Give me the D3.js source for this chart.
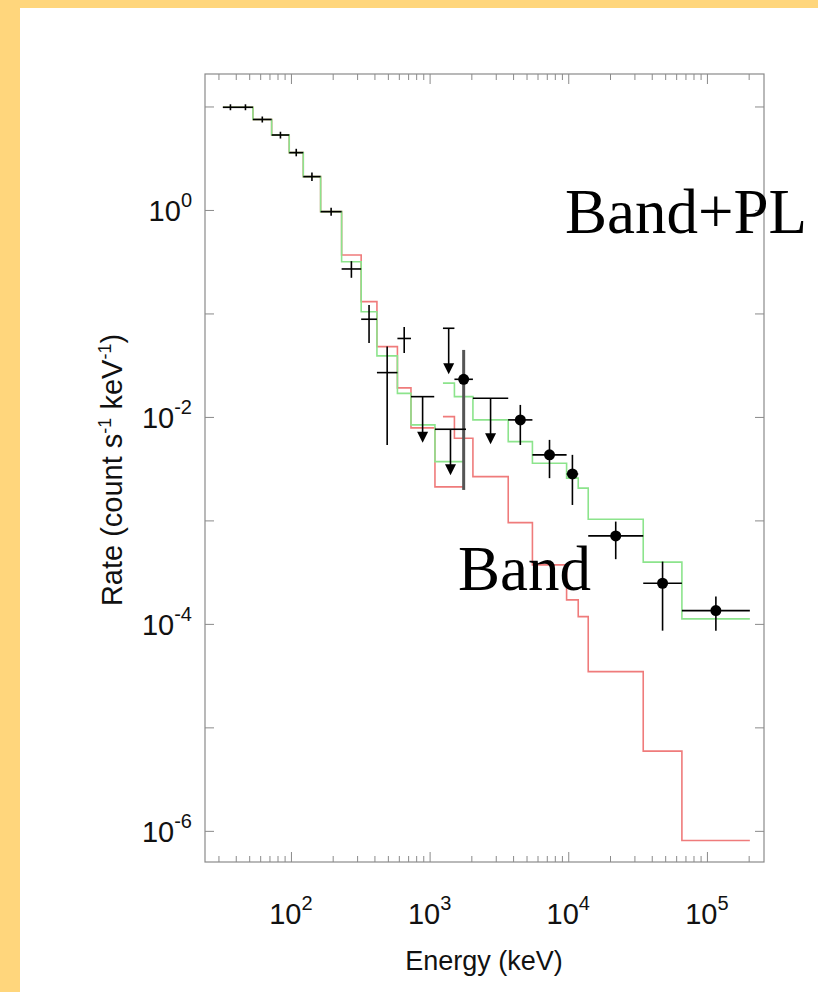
<!DOCTYPE html>
<html>
<head>
<meta charset="utf-8">
<script src="https://cdn.jsdelivr.net/npm/d3@7"></script>
<style>
  html, body { margin: 0; padding: 0; background: #ffd67c; }
  svg { display: block; }
</style>
</head>
<body>
<svg id="chart" width="818" height="992"></svg>
<script>
// ---- Spectrum data (count s^-1 keV^-1 vs keV) ----

// Low-energy detector: model bin edges and folded model rates
const lowEdges = [32.3, 41.5, 53.2, 72.6, 97.2, 122.7, 163.7, 232, 321, 417, 586, 734, 1093, 1798];
const bandLow   = [9.82, 9.82, 7.49, 5.30, 3.58, 2.10, 0.963, 0.367, 0.130, 0.0478, 0.0191, 0.00783, 0.00211];
const bandPlLow = [9.82, 9.82, 7.49, 5.30, 3.58, 2.10, 0.963, 0.316, 0.104, 0.0389, 0.0169, 0.00837, 0.0037];

// High-energy detectors: model bin edges and folded model rates
const highEdges  = [1248, 1510, 2053, 3690, 5514, 9727, 11800, 13930, 34720, 66000, 204000];
const bandHigh   = [0.01007, 0.00622, 0.00265, 9.52e-4, 3.72e-4, 1.706e-4, 1.176e-4, 3.46e-5, 5.9e-6, 8.06e-7];
const bandPlHigh = [0.0212, 0.0157, 0.00936, 0.00577, 0.00357, 0.00256, 0.00205, 1.027e-3, 3.95e-4, 1.117e-4];

// Measured bins: [E low, E high, rate, rate low, rate high]
const crossData = [
  [32.3, 41.5, 9.82, 9.2, 10.5],
  [41.5, 53.2, 9.82, 9.2, 10.5],
  [53.2, 72.6, 7.49, 7.0, 8.0],
  [72.6, 97.2, 5.30, 4.9, 5.7],
  [97.2, 122.7, 3.58, 3.3, 3.9],
  [122.7, 163.7, 2.10, 1.9, 2.3],
  [163.7, 232, 0.963, 0.88, 1.05],
  [232, 321, 0.269, 0.221, 0.32],
  [321, 417, 0.0879, 0.0519, 0.1208],
  [417, 586, 0.0268, 0.00536, 0.0478],
  [586, 734, 0.0573, 0.0415, 0.0741]
];

// High-energy measured bins drawn with filled markers
const dotData = [
  [1510, 2053, 0.0231, 0.00197, 0.0444],
  [3690, 5514, 0.00936, 0.00536, 0.01306],
  [5514, 9727, 0.0043, 0.00256, 0.006],
  [9727, 11800, 0.00281, 0.00141, 0.0043],
  [13930, 34720, 7.08e-4, 4.22e-4, 9.74e-4],
  [34720, 66000, 2.47e-4, 8.6e-5, 4.0e-4],
  [66000, 204000, 1.344e-4, 8.6e-5, 1.835e-4]
];

// Upper limits: [E low, E high, limit]
const upperLimits = [
  [734, 1080, 0.0157],
  [1093, 1830, 0.0076],
  [1248, 1510, 0.0719],
  [2053, 3690, 0.01517]
];

const xTickExps = [2, 3, 4, 5];
const yTickExps = [0, -2, -4, -6];

// ---- Layout ----
const svg = d3.select("#chart");
const plot = { left: 205, right: 764, top: 74, bottom: 862 };

svg.append("rect").attr("x", 20).attr("y", 8).attr("width", 798).attr("height", 984).attr("fill", "#fff");

const x = d3.scaleLog().domain([24, 2.58e5]).range([plot.left, plot.right]);
const y = d3.scaleLog().domain([5.0e-7, 20.6]).range([plot.bottom, plot.top]);

const frameColor = "#8a8a8a";

// Axes: bottom/top with decade + minor ticks, left/right with decade ticks
function tickSet(scale) {
  const [a, b] = scale.domain();
  const out = [];
  for (let e = Math.floor(Math.log10(a)); e <= Math.ceil(Math.log10(b)); e++) {
    for (let m = 1; m <= 9; m++) {
      const v = m * Math.pow(10, e);
      if (v >= a && v <= b) out.push(v);
    }
  }
  return out;
}
const xTicks = tickSet(x);
const isDecade = v => Math.abs(Math.log10(v) - Math.round(Math.log10(v))) < 1e-9;

const gB = svg.append("g").attr("transform", `translate(0,${plot.bottom})`)
  .call(d3.axisBottom(x).tickValues(xTicks).tickFormat("").tickSizeOuter(0));
const gT = svg.append("g").attr("transform", `translate(0,${plot.top})`)
  .call(d3.axisTop(x).tickValues(xTicks).tickFormat("").tickSizeOuter(0));
[gB, gT].forEach((g, i) => {
  g.select(".domain").remove();
  g.selectAll(".tick line")
    .attr("stroke", frameColor)
    .attr("y2", d => (i === 0 ? -1 : 1) * (isDecade(d) ? 10 : 6));
});

const yTicks = d3.range(-6, 2).map(e => Math.pow(10, e));
const gL = svg.append("g").attr("transform", `translate(${plot.left},0)`)
  .call(d3.axisLeft(y).tickValues(yTicks).tickFormat("").tickSizeOuter(0));
const gR = svg.append("g").attr("transform", `translate(${plot.right},0)`)
  .call(d3.axisRight(y).tickValues(yTicks).tickFormat("").tickSizeOuter(0));
[gL, gR].forEach((g, i) => {
  g.select(".domain").remove();
  g.selectAll(".tick line").attr("stroke", frameColor).attr("x2", (i === 0 ? 1 : -1) * 9);
});

svg.append("rect")
  .attr("x", plot.left).attr("y", plot.top)
  .attr("width", plot.right - plot.left).attr("height", plot.bottom - plot.top)
  .attr("fill", "none").attr("stroke", frameColor).attr("stroke-width", 1.2);

// Tick labels as 10 with a superscript exponent
const labelFont = "'Liberation Sans', Arial, Helvetica, sans-serif";
xTickExps.forEach(e => {
  const t = svg.append("text")
    .attr("x", x(Math.pow(10, e))).attr("y", 924)
    .attr("text-anchor", "middle")
    .attr("font-family", labelFont).attr("font-size", 29).attr("fill", "#111");
  t.append("tspan").text("10");
  t.append("tspan").attr("font-size", 20).attr("dy", -14).text(String(e));
});
yTickExps.forEach(e => {
  const t = svg.append("text")
    .attr("x", 192).attr("y", y(Math.pow(10, e)) + 11)
    .attr("text-anchor", "end")
    .attr("font-family", labelFont).attr("font-size", 29).attr("fill", "#111");
  t.append("tspan").text("10");
  t.append("tspan").attr("font-size", 20).attr("dy", -14).text(e === 0 ? "0" : "-" + Math.abs(e));
});

// Axis titles
svg.append("text")
  .attr("x", 484).attr("y", 970).attr("text-anchor", "middle")
  .attr("font-family", labelFont).attr("font-size", 27).attr("fill", "#111")
  .text("Energy (keV)");

const yt = svg.append("text")
  .attr("transform", "translate(122,470) rotate(-90)")
  .attr("text-anchor", "middle")
  .attr("font-family", labelFont).attr("font-size", 29).attr("fill", "#111");
yt.append("tspan").text("Rate (count s");
yt.append("tspan").attr("font-size", 18).attr("dy", -11).text("-1");
yt.append("tspan").attr("dy", 11).text(" keV");
yt.append("tspan").attr("font-size", 18).attr("dy", -11).text("-1");
yt.append("tspan").attr("dy", 11).text(")");

// ---- Model step curves ----
const step = d3.line().x(d => x(d[0])).y(d => y(d[1])).curve(d3.curveStepAfter);
function stepPoints(edges, vals) {
  const pts = vals.map((v, i) => [edges[i], v]);
  pts.push([edges[edges.length - 1], vals[vals.length - 1]]);
  return pts;
}
const redCol = "#ef7b7b", greenCol = "#8ce48c";
[[lowEdges, bandLow, redCol], [highEdges, bandHigh, redCol],
 [lowEdges, bandPlLow, greenCol], [highEdges, bandPlHigh, greenCol]].forEach(([e, v, c]) => {
  svg.append("path").attr("d", step(stepPoints(e, v)))
    .attr("fill", "none").attr("stroke", c).attr("stroke-width", 1.6);
});

// ---- Data ----
const data = svg.append("g").attr("stroke", "#000").attr("stroke-width", 1.6);

crossData.forEach(d => {
  const cx = x(Math.sqrt(d[0] * d[1]));
  data.append("line").attr("x1", x(d[0])).attr("x2", x(d[1])).attr("y1", y(d[2])).attr("y2", y(d[2]));
  data.append("line").attr("x1", cx).attr("x2", cx).attr("y1", y(d[3])).attr("y2", y(d[4]));
});

dotData.forEach((d, i) => {
  const cx = x(Math.sqrt(d[0] * d[1]));
  data.append("line").attr("x1", x(d[0])).attr("x2", x(d[1])).attr("y1", y(d[2])).attr("y2", y(d[2]));
  data.append("line").attr("x1", cx).attr("x2", cx).attr("y1", y(d[3])).attr("y2", y(d[4]))
    .attr("stroke", i === 0 ? "#555" : "#000").attr("stroke-width", i === 0 ? 3 : 1.6);
  data.append("circle").attr("cx", cx).attr("cy", y(d[2])).attr("r", 5.5).attr("fill", "#000").attr("stroke", "none");
});

upperLimits.forEach(d => {
  const cx = x(Math.sqrt(d[0] * d[1]));
  const y0 = y(d[2]);
  const len = 46;
  data.append("line").attr("x1", x(d[0])).attr("x2", x(d[1])).attr("y1", y0).attr("y2", y0);
  data.append("line").attr("x1", cx).attr("x2", cx).attr("y1", y0).attr("y2", y0 + len - 8);
  data.append("path")
    .attr("d", `M${cx - 5.5},${y0 + len - 11} L${cx + 5.5},${y0 + len - 11} L${cx},${y0 + len} Z`)
    .attr("fill", "#000").attr("stroke", "none");
});

// ---- Model labels ----
const serif = "'Liberation Serif', 'Times New Roman', serif";
svg.append("text").attr("x", 565).attr("y", 233)
  .attr("font-family", serif).attr("font-size", 63).attr("fill", "#000").text("Band+PL");
svg.append("text").attr("x", 458).attr("y", 590)
  .attr("font-family", serif).attr("font-size", 63).attr("fill", "#000").text("Band");
</script>
</body>
</html>
